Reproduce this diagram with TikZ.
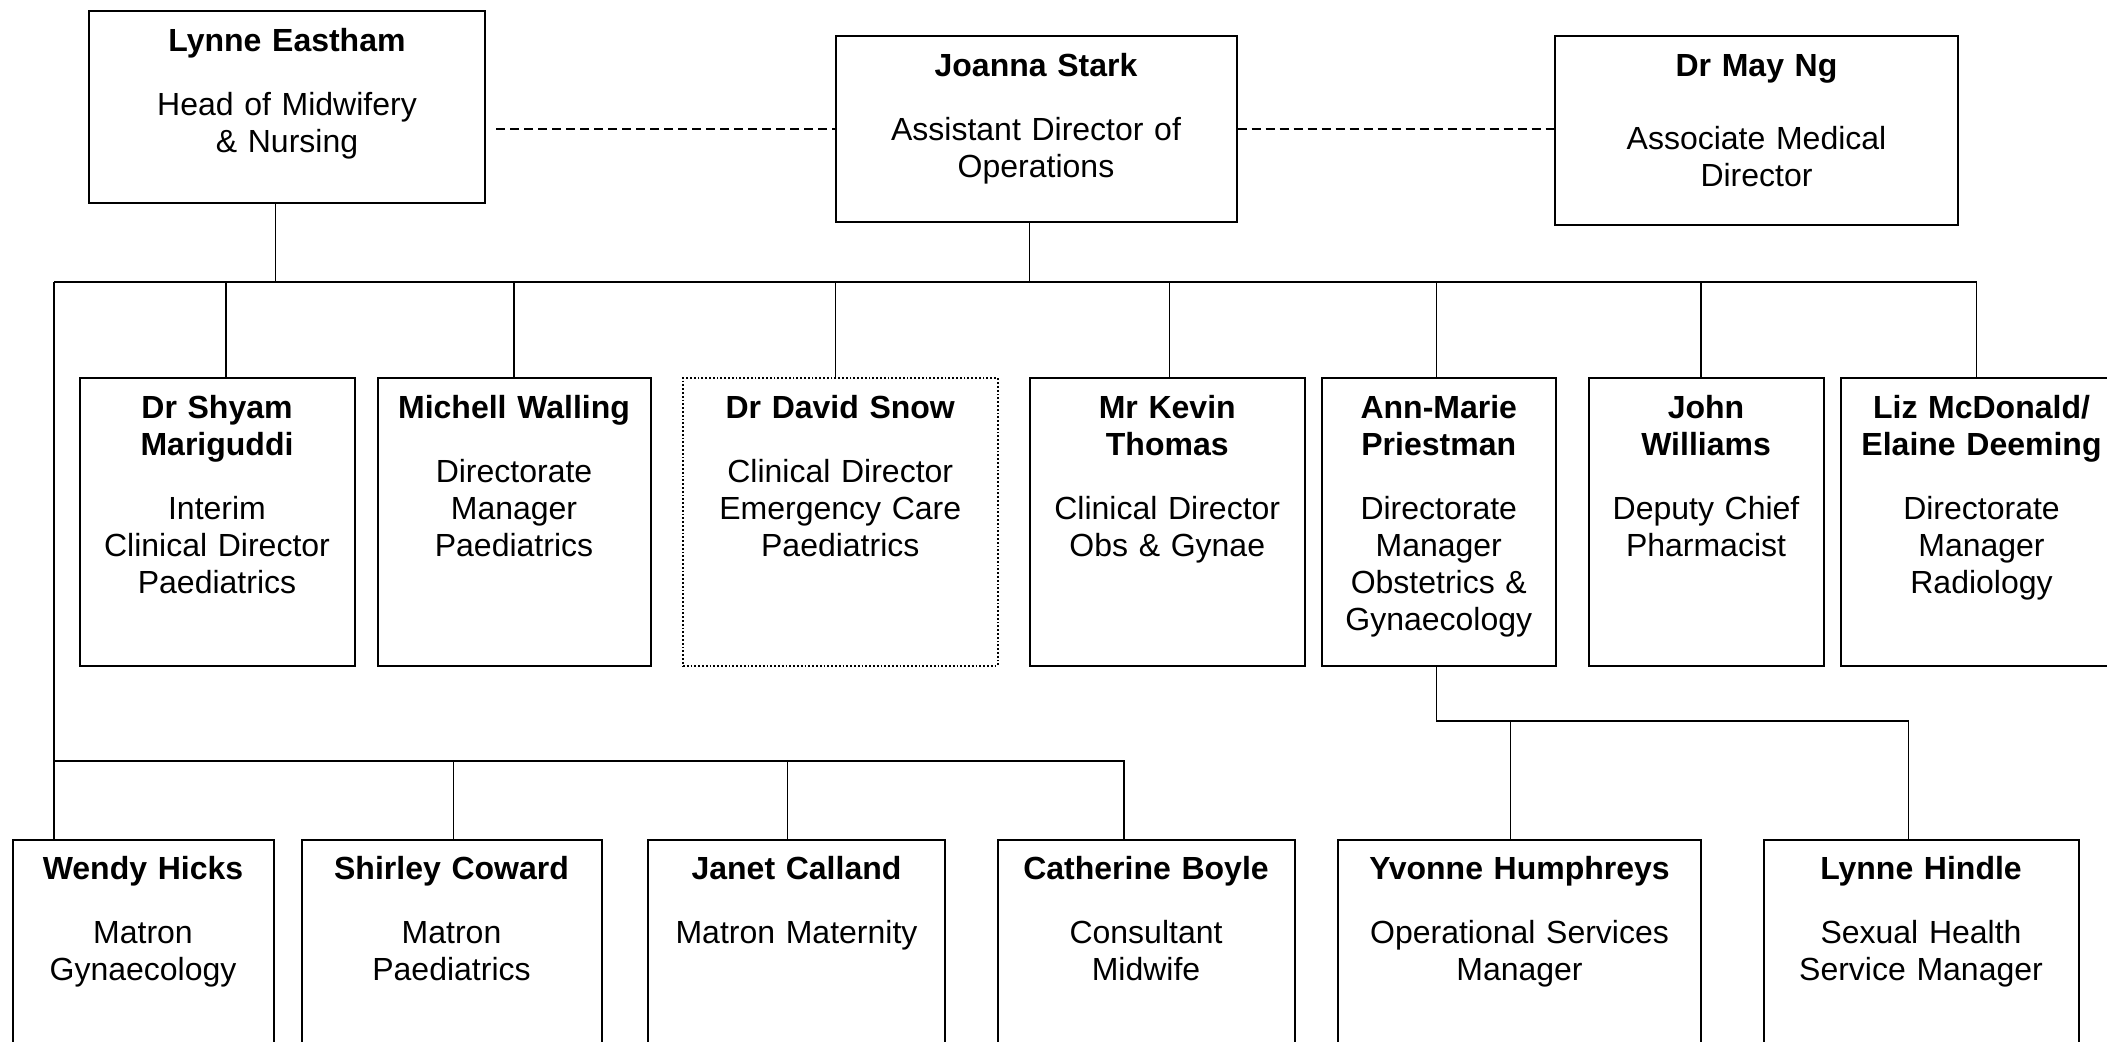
\documentclass[tikz,border=0pt]{standalone}
\usepackage{fontspec}
\setmainfont{Liberation Sans}
\begin{document}
\begin{tikzpicture}
  [x=0.5pt,y=-0.5pt,
   postbox/.style={draw,line width=1pt,inner sep=0pt,anchor=north west,align=center,
     font=\fontsize{16pt}{18.5pt}\selectfont,text height=20pt},
   midpost/.style={postbox,text depth=124pt},
   lowpost/.style={postbox,text depth=130pt},
   link/.style={line width=.7pt},
   partner/.style={link,dash pattern=on 4.5pt off 2.5pt}]
  \useasboundingbox[fill=white] (0,0) rectangle (2107,1041);
  % top row
  \node[postbox,text width=198pt,text depth=76pt] (lynneE) at (88,10)
    {\textbf{Lynne Eastham}\\[13.5pt]Head of Midwifery\\\& Nursing};
  \node[postbox,text width=200.5pt,text depth=73pt] (joanna) at (834.5,35)
    {\textbf{Joanna Stark}\\[13.5pt]Assistant Director of\\Operations};
  \node[postbox,text width=201.5pt,text depth=74.5pt] (may) at (1554,35)
    {\textbf{Dr May Ng}\\[18pt]Associate Medical\\Director};
  % middle row
  \node[midpost,text width=137.5pt] (shyam) at (78.5,377)
    {\textbf{Dr Shyam\\Mariguddi}\\[13.5pt]Interim\\Clinical Director\\Paediatrics};
  \node[midpost,text width=136.5pt] (walling) at (376.5,377)
    {\textbf{Michell Walling}\\[13.5pt]Directorate\\Manager\\Paediatrics};
  \node[midpost,text width=157.25pt,dash pattern=on .9pt off 1pt] (snow) at (682,377)
    {\textbf{Dr David Snow}\\[13.5pt]Clinical Director\\Emergency Care\\Paediatrics};
  \node[midpost,text width=137.25pt] (thomas) at (1029,377)
    {\textbf{Mr Kevin\\Thomas}\\[13.5pt]Clinical Director\\Obs \& Gynae};
  \node[midpost,text width=117.25pt] (priestman) at (1320.5,377)
    {\textbf{Ann-Marie\\Priestman}\\[13.5pt]Directorate\\Manager\\Obstetrics \&\\Gynaecology};
  \node[midpost,text width=117.5pt] (williams) at (1587.5,377)
    {\textbf{John\\Williams}\\[13.5pt]Deputy Chief\\Pharmacist};
  \node[midpost,text width=140.5pt] (liz) at (1840,377)
    {\textbf{Liz McDonald/\\Elaine Deeming}\\[13.5pt]Directorate\\Manager\\Radiology};
  % bottom row
  \node[lowpost,text width=130.5pt] (wendy) at (11.5,838.5)
    {\textbf{Wendy Hicks}\\[13.5pt]Matron\\Gynaecology};
  \node[lowpost,text width=150pt] (shirley) at (300.5,838.5)
    {\textbf{Shirley Coward}\\[13.5pt]Matron\\Paediatrics};
  \node[lowpost,text width=148.5pt] (janet) at (647,838.5)
    {\textbf{Janet Calland}\\[13.5pt]Matron Maternity};
  \node[lowpost,text width=148.5pt] (catherine) at (996.5,838.5)
    {\textbf{Catherine Boyle}\\[13.5pt]Consultant\\Midwife};
  \node[lowpost,text width=181.5pt] (yvonne) at (1337,838.5)
    {\textbf{Yvonne Humphreys}\\[13.5pt]Operational Services\\Manager};
  \node[lowpost,text width=157.5pt] (hindle) at (1762.5,838.5)
    {\textbf{Lynne Hindle}\\[13.5pt]Sexual Health\\Service Manager};

  % lines
  \coordinate (busL) at (54,282);
  \coordinate (bus2L) at (54,761);
  \coordinate (bus3) at (1436,721);
  \coordinate (hT) at ([xshift=-6.25pt]hindle.north);
  \coordinate (cT) at ([xshift=-11pt]catherine.north);
  \draw[link] (busL) -- ([xshift=-2.4pt]liz.north |- busL);
  \draw[partner] ([xshift=5pt]lynneE.east |- joanna.west) -- (joanna.west);
  \draw[partner] (joanna.east) -- (joanna.east -| may.west);
  \foreach \n/\dx in {lynneE/-5.7pt,joanna/-3.2pt}
    \draw[link] ([xshift=\dx]\n.south) -- ([xshift=\dx]\n.south |- busL);
  \foreach \n/\dx in {shyam/4.5pt,walling/0pt,snow/-2.4pt,thomas/1pt,priestman/-1pt,williams/-2.5pt,liz/-2.4pt}
    \draw[link] ([xshift=\dx]\n.north) -- ([xshift=\dx]\n.north |- busL);
  \draw[link] (busL) -- (busL |- wendy.north);
  \draw[link] (bus2L) -| (cT);
  \foreach \n/\dx in {shirley/1pt,janet/-4.4pt}
    \draw[link] ([xshift=\dx]\n.north) -- ([xshift=\dx]\n.north |- bus2L);
  \draw[link] ([xshift=-1pt]priestman.south) |- (hT |- bus3) -- (hT);
  \draw[link] ([xshift=-4.4pt]yvonne.north) -- ([xshift=-4.4pt]yvonne.north |- bus3);
\end{tikzpicture}
\end{document}
